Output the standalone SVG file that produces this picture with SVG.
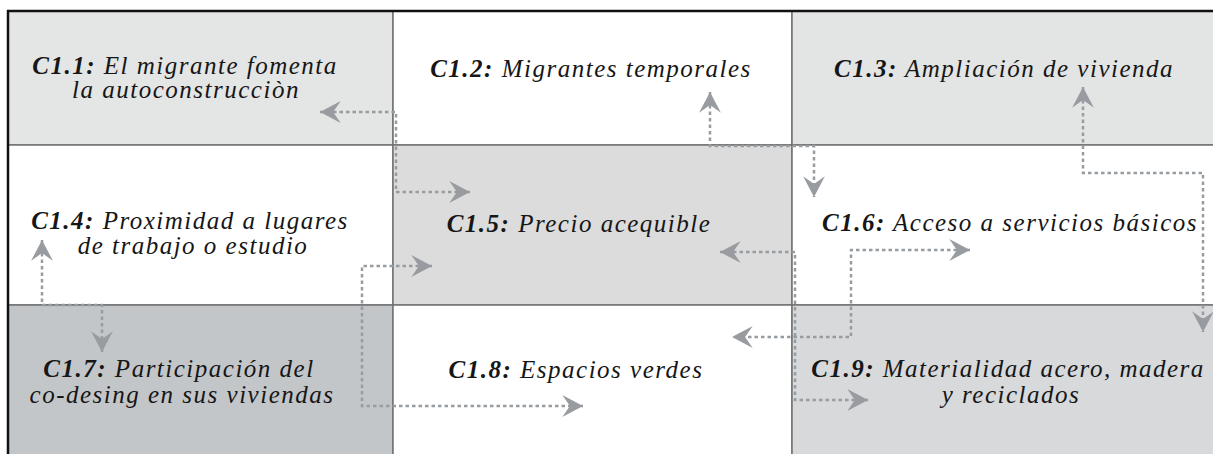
<svg xmlns="http://www.w3.org/2000/svg" width="1213" height="454" viewBox="0 0 1213 454">
  <style>
    .cell { stroke: #727272; stroke-width: 1.5; }
    .lbl { font-family: "Liberation Serif", "Times New Roman", serif; font-style: italic; font-size: 25px; letter-spacing: 1.5px; fill: #161616; text-anchor: middle; }
    .b { font-weight: bold; }
    .conn { fill: none; stroke: #979ca1; stroke-width: 2.5; stroke-dasharray: 3.5 3; marker-start: url(#ah); marker-end: url(#ah); }
  </style>
  <defs>
    <marker id="ah" markerUnits="userSpaceOnUse" markerWidth="24" markerHeight="24" viewBox="-20 -11 22 22" refX="0" refY="0" orient="auto-start-reverse">
      <path d="M0,0 L-19,-10 L-12,0 L-19,10 Z" fill="#989ca0"/>
    </marker>
  </defs>
  <rect x="0" y="0" width="1213" height="454" fill="#ffffff"/>

  <g id="c1-1"><rect class="cell" x="8" y="11" width="385" height="134" fill="#e4e5e5"/>
    <text class="lbl" x="185" y="74"><tspan class="b">C1.1:</tspan> El migrante fomenta</text>
    <text class="lbl" x="186" y="98">la autoconstrucciòn</text></g>
  <g id="c1-2"><rect class="cell" x="393" y="11" width="399" height="134" fill="#ffffff"/>
    <text class="lbl" x="591" y="77"><tspan class="b">C1.2:</tspan> Migrantes temporales</text></g>
  <g id="c1-3"><rect class="cell" x="792" y="11" width="425" height="134" fill="#e3e4e4"/>
    <text class="lbl" x="1004" y="77"><tspan class="b">C1.3:</tspan> Ampliación de vivienda</text></g>
  <g id="c1-4"><rect class="cell" x="8" y="145" width="385" height="160" fill="#ffffff"/>
    <text class="lbl" x="190" y="229"><tspan class="b">C1.4:</tspan> Proximidad a lugares</text>
    <text class="lbl" x="193" y="254">de trabajo o estudio</text></g>
  <g id="c1-5"><rect class="cell" x="393" y="145" width="399" height="160" fill="#dcdcdc"/>
    <text class="lbl" x="579" y="232"><tspan class="b">C1.5:</tspan> Precio acequible</text></g>
  <g id="c1-6"><rect class="cell" x="792" y="145" width="425" height="160" fill="#ffffff"/>
    <text class="lbl" x="1010" y="231"><tspan class="b">C1.6:</tspan> Acceso a servicios básicos</text></g>
  <g id="c1-7"><rect class="cell" x="8" y="305" width="385" height="155" fill="#c3c6c9"/>
    <text class="lbl" x="179" y="377"><tspan class="b">C1.7:</tspan> Participación del</text>
    <text class="lbl" x="182" y="403">co-desing en sus viviendas</text></g>
  <g id="c1-8"><rect class="cell" x="393" y="305" width="399" height="155" fill="#ffffff"/>
    <text class="lbl" x="576" y="378"><tspan class="b">C1.8:</tspan> Espacios verdes</text></g>
  <g id="c1-9"><rect class="cell" x="792" y="305" width="425" height="155" fill="#d7d9db"/>
    <text class="lbl" x="1008" y="377"><tspan class="b">C1.9:</tspan> Materialidad acero, madera</text>
    <text class="lbl" x="1011" y="403">y reciclados</text></g>

  <g id="frame">
    <line x1="7" y1="11" x2="1213" y2="11" stroke="#111" stroke-width="2.5"/>
    <line x1="8" y1="10" x2="8" y2="454" stroke="#111" stroke-width="2.5"/>
  </g>

  <g id="connectors">
    <path class="conn" d="M320,112 H396 V192 H470"/>
    <path class="conn" d="M710,92 V146 H814 V197"/>
    <path class="conn" d="M1083,87 V173 H1203 V332"/>
    <path class="conn" d="M970,250 H851 V337 H732"/>
    <path class="conn" d="M720,252 H795 V400 H868"/>
    <path class="conn" d="M42,240 V305 H102 V352"/>
    <path class="conn" d="M432,266 H362 V406 H583"/>
  </g>
</svg>
